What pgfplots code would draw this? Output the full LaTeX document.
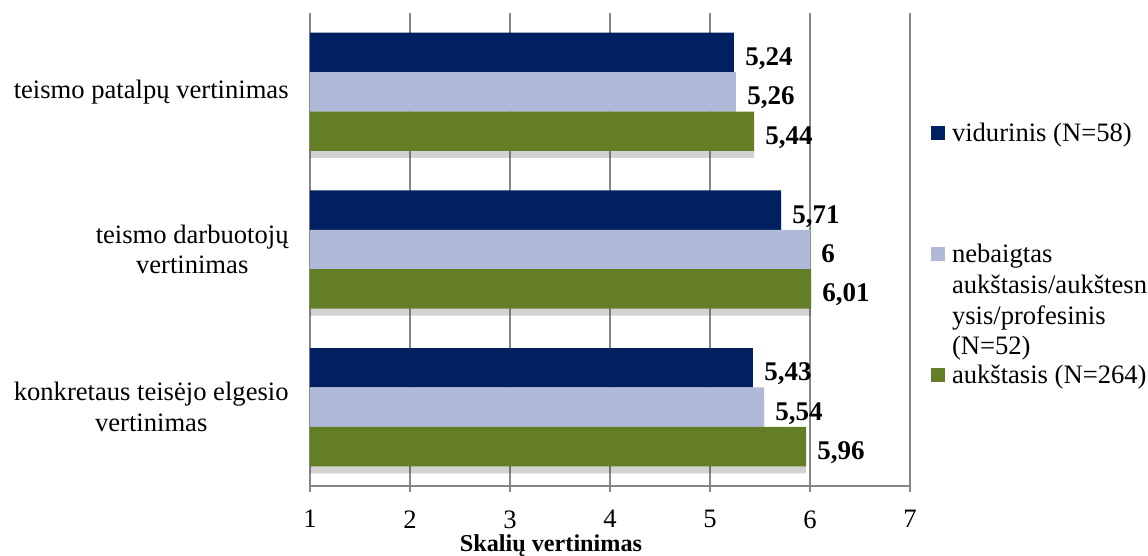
\documentclass[border=0pt]{standalone}
\usepackage{pgfplots}
\pgfplotsset{compat=1.18}
\usetikzlibrary{shadows}
\usepackage{fontspec}
\setmainfont{Liberation Serif}
\definecolor{cnavy}{RGB}{0,32,96}
\definecolor{clav}{RGB}{176,186,216}
\definecolor{cgreen}{RGB}{100,126,40}
\definecolor{cgrid}{RGB}{134,134,134}
\newcommand{\lfont}{\fontsize{13.3}{15.3}\selectfont}
\newcommand{\lstrut}{\rule[-2.5pt]{0pt}{13pt}}
\begin{document}
\begin{tikzpicture}
\useasboundingbox (0,0) rectangle (574pt,278pt);
\begin{axis}[
  at={(155pt,35pt)}, anchor=south west,
  scale only axis, width=300pt, height=236.5pt,
  xbar, bar width=19.7pt,
  xmin=1, xmax=7, xtick={1,2,3,4,5,6,7},
  ymin=-0.5, ymax=2.5, y dir=reverse,
  ytick={0,1,2},
  yticklabels={{teismo patalpų vertinimas},{teismo darbuotojų\\vertinimas},{konkretaus teisėjo elgesio\\vertinimas}},
  axis x line=bottom, axis y line=left,
  axis line style={-, draw=cgrid, line width=0.7pt},
  xmajorgrids, major grid style={draw=cgrid, line width=0.7pt},
  tick align=outside, major tick length=3pt,
  x tick style={draw=cgrid, line width=0.7pt},
  y tick style={draw=none},
  /pgf/number format/assume math mode=true,
  xticklabel style={font=\lfont, inner sep=0pt, yshift=-9pt},
  yticklabel style={font=\lfont, align=center, inner sep=0pt, xshift=-7.5pt},
  xlabel={\bfseries Skalių vertinimas},
  xlabel style={font=\fontsize{12.1}{14}\selectfont, at={(axis description cs:0.4017,0)}, anchor=base, yshift=-32.5pt},
  point meta=x,
  nodes near coords={\pgfmathprintnumber[use comma, precision=2, assume math mode=true]{\pgfplotspointmeta}},
  every node near coord/.append style={font=\bfseries\fontsize{13.5}{15}\selectfont, anchor=west, xshift=5.5pt, yshift=-3pt, text height=9pt, text depth=2pt, inner sep=0pt, color=black},
  legend cell align=left,
  legend style={at={(1.035,0.772)}, anchor=north west, draw=none, fill=none, inner sep=0pt, outer sep=0pt, row sep=48.5pt, font=\lfont, nodes={inner sep=0pt, anchor=west}, /tikz/every odd column/.append style={column sep=3.5pt}},
  sq/.style={legend image code/.code={\pgfsetfillcolor{#1}\pgfpathrectangle{\pgfpoint{0pt}{-3.5pt}}{\pgfpoint{7pt}{7pt}}\pgfusepath{fill}}},
  shd/.style={drop shadow={shadow xshift=0pt, shadow yshift=-3.5pt, opacity=0.25, fill=black!70}},
]
\addplot[fill=cnavy, draw=none, bar shift=19.7pt, sq=cnavy, shd] coordinates {(5.24,0) (5.71,1) (5.43,2)};
\addplot[fill=clav, draw=none, bar shift=0pt, sq=clav, shd] coordinates {(5.26,0) (6,1) (5.54,2)};
\addplot[fill=cgreen, draw=none, bar shift=-19.7pt, sq=cgreen, shd] coordinates {(5.44,0) (6.01,1) (5.96,2)};
\legend{{vidurinis (N=58)\lstrut},{\smash{\begin{tabular}[t]{@{}l@{}}nebaigtas\\aukštasis/aukštesn\\ysis/profesinis\\(N=52)\end{tabular}}\lstrut},{aukštasis (N=264)\lstrut}}
\end{axis}
\end{tikzpicture}
\end{document}
